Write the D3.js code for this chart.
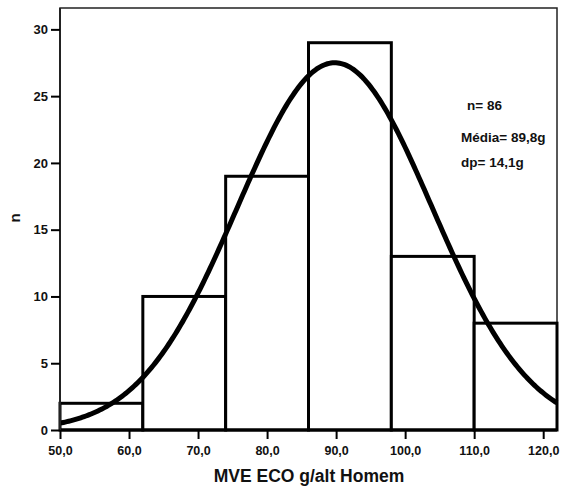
<!DOCTYPE html>
<html>
<head>
<meta charset="utf-8">
<script src="https://cdn.jsdelivr.net/npm/d3@7"></script>
<style>
  html, body { margin: 0; padding: 0; background: #fff; }
  svg { display: block; font-family: "Liberation Sans", Arial, sans-serif; font-weight: bold; }
</style>
</head>
<body>
<svg id="chart" width="563" height="491"></svg>
<script>
// Histogram bins (lower edge, upper edge) and counts
const binStarts = [50, 62, 74, 86, 98, 110];
const binWidth = 12;
const counts = [2, 10, 19, 29, 13, 8];

// Axis ticks
const xTicks = [50, 60, 70, 80, 90, 100, 110, 120];
const xTickLabels = ["50,0", "60,0", "70,0", "80,0", "90,0", "100,0", "110,0", "120,0"];
const yTicks = [0, 5, 10, 15, 20, 25, 30];

// Summary statistics shown on the chart
const statN = 86;
const statMean = 89.8;
const statSd = 14.1;
const statLabels = ["n= 86", "Média= 89,8g", "dp= 14,1g"];

const svg = d3.select("#chart");
const plotL = 60, plotR = 557, plotT = 8, plotB = 430;
const FONT = "Liberation Sans, Arial, sans-serif";

const x = d3.scaleLinear().domain([50, 122]).range([plotL, plotR]);
const y = d3.scaleLinear().domain([0, 31.6]).range([plotB, plotT]);

// Plot frame
svg.append("rect")
  .attr("x", plotL).attr("y", plotT)
  .attr("width", plotR - plotL).attr("height", plotB - plotT)
  .attr("fill", "none").attr("stroke", "#222").attr("stroke-width", 1.5);

// Bars
const bars = binStarts.map((s, i) => ({ x0: s, x1: s + binWidth, n: counts[i] }));
svg.append("g").selectAll("rect").data(bars).join("rect")
  .attr("x", d => x(d.x0))
  .attr("y", d => y(d.n))
  .attr("width", d => x(d.x1) - x(d.x0))
  .attr("height", d => y(0) - y(d.n))
  .attr("fill", "#fff")
  .attr("stroke", "#000")
  .attr("stroke-width", 3);

// Fitted normal curve scaled to the histogram area
const total = d3.sum(counts);
const curveXs = d3.range(50, 122.001, 0.25);
const pdf = v => Math.exp(-0.5 * ((v - statMean) / statSd) ** 2) / (statSd * Math.sqrt(2 * Math.PI));
svg.append("path")
  .datum(curveXs)
  .attr("fill", "none")
  .attr("stroke", "#000")
  .attr("stroke-width", 5)
  .attr("d", d3.line().x(v => x(v)).y(v => y(total * binWidth * pdf(v))));

// Baseline
svg.append("line")
  .attr("x1", plotL).attr("x2", plotR)
  .attr("y1", plotB).attr("y2", plotB)
  .attr("stroke", "#000").attr("stroke-width", 3);

// Y axis
const yAxis = svg.append("g")
  .attr("transform", `translate(${plotL},0)`)
  .call(d3.axisLeft(y).tickValues(yTicks).tickSize(9).tickPadding(3).tickFormat(d3.format("d")));
yAxis.select(".domain").attr("stroke", "#222").attr("stroke-width", 2).attr("d", `M0,${plotB}V${plotT}`);
yAxis.selectAll(".tick line").attr("stroke", "#000").attr("stroke-width", 2);
yAxis.selectAll(".tick text").attr("font-size", 13).attr("font-weight", "bold").attr("fill", "#111")
  .attr("font-family", FONT);

// X axis
const xAxis = svg.append("g")
  .attr("transform", `translate(0,${plotB})`)
  .call(d3.axisBottom(x).tickValues(xTicks).tickSize(9).tickPadding(7)
    .tickFormat((d, i) => xTickLabels[i]));
xAxis.select(".domain").remove();
xAxis.selectAll(".tick line").attr("stroke", "#000").attr("stroke-width", 2);
xAxis.selectAll(".tick text").attr("font-size", 12.5).attr("font-weight", "bold").attr("fill", "#111")
  .attr("font-family", FONT);

// Axis titles
svg.append("text")
  .attr("x", 309).attr("y", 482)
  .attr("text-anchor", "middle")
  .attr("font-size", 17.5).attr("fill", "#111")
  .text("MVE ECO g/alt Homem");

svg.append("text")
  .attr("transform", "translate(20,218) rotate(-90)")
  .attr("text-anchor", "middle")
  .attr("font-size", 15).attr("fill", "#111")
  .text("n");

// Statistics annotation
const statPos = [[467, 110], [461, 142], [461, 167]];
svg.append("g").selectAll("text").data(statLabels).join("text")
  .attr("x", (d, i) => statPos[i][0])
  .attr("y", (d, i) => statPos[i][1])
  .attr("font-size", 13.5).attr("fill", "#111")
  .text(d => d);
</script>
</body>
</html>
